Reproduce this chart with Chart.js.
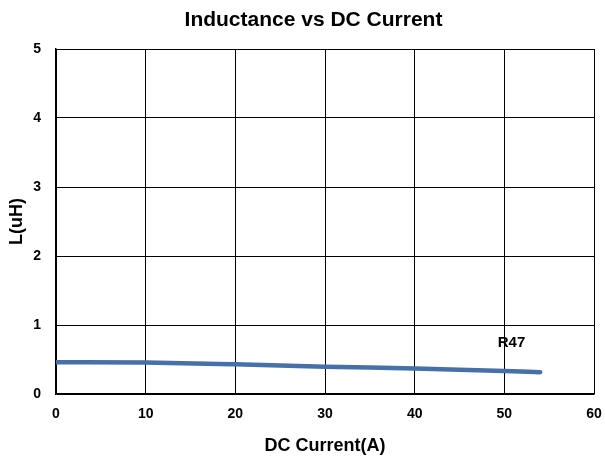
<!DOCTYPE html>
<html>
<head>
<meta charset="utf-8">
<script src="https://cdn.jsdelivr.net/npm/chart.js@4"></script>
<style>
  html, body { margin: 0; padding: 0; background: #fff; }
  #wrap { width: 605px; height: 459px; }
</style>
</head>
<body>
<div id="wrap"><canvas id="chart"></canvas></div>
<script>
// data
const currentA = [0, 10, 20, 30, 40, 50, 54];
const inductanceUH = [0.46, 0.455, 0.43, 0.395, 0.37, 0.335, 0.315];
const seriesName = 'R47';
const chartTitle = 'Inductance vs DC Current';
const labelAt = { x: 50.8, y: 0.735 };

const lineColor = '#4570a8';
const fontFamily = '"Liberation Sans", Arial, sans-serif';

// title sits a bit right of the canvas centre in the original, so draw it here
const titleText = {
    id: 'titleText',
    afterDraw(chart) {
        const ctx = chart.ctx;
        ctx.save();
        ctx.font = 'bold 21px ' + fontFamily;
        ctx.fillStyle = '#000';
        ctx.textAlign = 'center';
        ctx.textBaseline = 'middle';
        ctx.fillText(chartTitle, 313.5, 20);
        ctx.restore();
    }
};

// draws the series name next to the curve
const seriesLabel = {
    id: 'seriesLabel',
    afterDatasetsDraw(chart) {
        const ctx = chart.ctx;
        const xs = chart.scales.x;
        const ys = chart.scales.y;
        ctx.save();
        ctx.font = 'bold 15px ' + fontFamily;
        ctx.fillStyle = '#000';
        ctx.textAlign = 'center';
        ctx.textBaseline = 'middle';
        ctx.fillText(seriesName, xs.getPixelForValue(labelAt.x), ys.getPixelForValue(labelAt.y));
        ctx.restore();
    }
};

const chart = new Chart(document.getElementById('chart'), {
    type: 'line',
    data: {
        datasets: [{
            label: seriesName,
            data: currentA.map((x, i) => ({ x: x, y: inductanceUH[i] })),
            borderColor: lineColor,
            backgroundColor: lineColor,
            borderWidth: 4.5,
            borderCapStyle: 'round',
            pointRadius: 0,
            cubicInterpolationMode: 'monotone',
            fill: false
        }]
    },
    options: {
        responsive: true,
        maintainAspectRatio: false,
        animation: false,
        layout: { padding: { left: 0, right: 11, top: 49, bottom: 0 } },
        plugins: {
            legend: { display: false },
            tooltip: { enabled: false },
            title: { display: false }
        },
        scales: {
            x: {
                type: 'linear',
                min: 0,
                max: 60,
                ticks: {
                    stepSize: 10,
                    color: '#000',
                    padding: 0,
                    font: { family: fontFamily, size: 14, weight: 'bold' }
                },
                grid: { color: '#000', lineWidth: 1, drawTicks: true, tickLength: 12, tickColor: 'rgba(0,0,0,0)' },
                border: { color: '#000', width: 1.5 },
                title: {
                    display: true,
                    text: 'DC Current(A)',
                    color: '#000',
                    font: { family: fontFamily, size: 18, weight: 'bold' },
                    padding: { top: 0, bottom: 2 }
                },
                afterFit(scale) { scale.height = 65; }
            },
            y: {
                min: 0,
                max: 5,
                ticks: {
                    stepSize: 1,
                    color: '#000',
                    padding: 15,
                    font: { family: fontFamily, size: 14, weight: 'bold' }
                },
                grid: { color: '#000', lineWidth: 1, drawTicks: false },
                border: { color: '#000', width: 1.5 },
                title: {
                    display: true,
                    text: 'L(uH)',
                    color: '#000',
                    font: { family: fontFamily, size: 18, weight: 'bold' },
                    padding: { top: 6, bottom: 0 }
                },
                afterFit(scale) { scale.width = 56; }
            }
        }
    },
    plugins: [seriesLabel, titleText]
});
</script>
</body>
</html>
